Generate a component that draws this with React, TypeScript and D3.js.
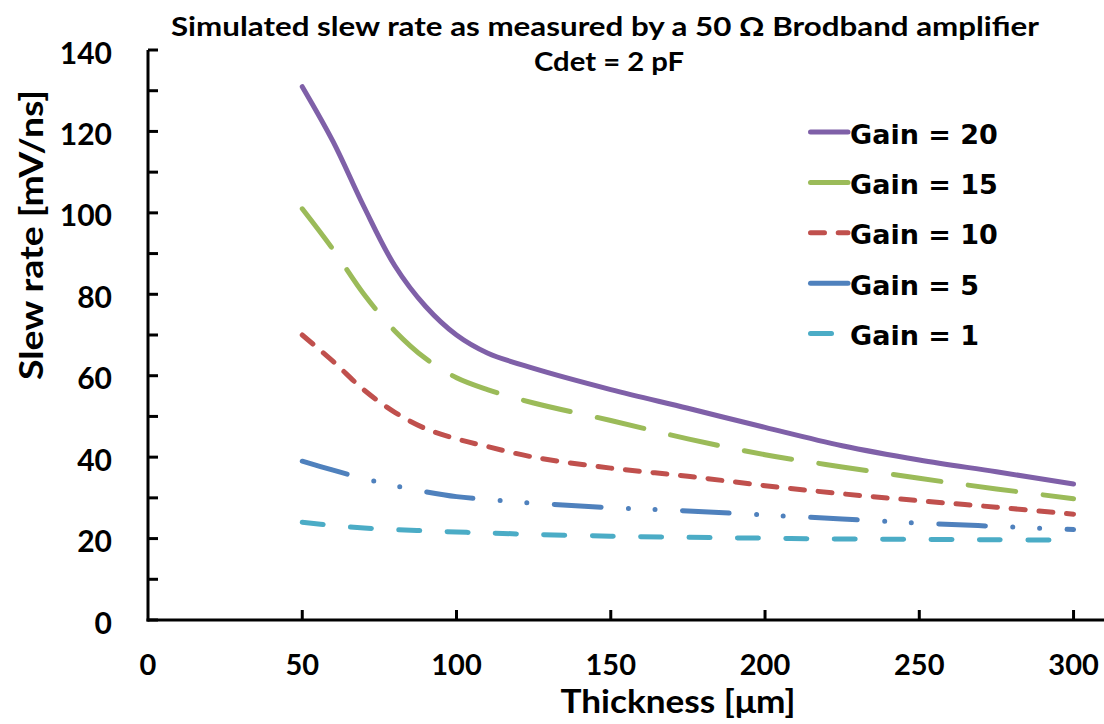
import React from "react";
import * as d3 from "d3";

// Detector thickness in micrometres (x values shared by every series)
const thickness = [50, 60, 70, 80, 90, 100, 110, 125, 150, 175, 200, 225, 250, 275, 300];

// Slew rate in mV/ns for each amplifier gain
const gain20 = [131, 117.5, 101.5, 87, 77, 70, 65.6, 61.8, 56.6, 52, 47.3, 42.8, 39.3, 36.4, 33.4];
const gain15 = [101, 91, 80, 71, 64.2, 59.5, 56.6, 53.3, 49, 44.5, 40.6, 37.6, 34.8, 32.2, 29.8];
const gain10 = [70, 63.5, 56.5, 51, 47, 44.5, 42.6, 40, 37.3, 35.3, 33, 31, 29.3, 27.7, 26];
const gain5 = [39, 36.8, 34.7, 33, 31.5, 30.3, 29.6, 28.7, 27.6, 26.8, 25.8, 24.8, 23.8, 23, 22.2];
const gain1 = [24, 23.2, 22.6, 22.2, 21.9, 21.6, 21.4, 21, 20.6, 20.3, 20.1, 19.9, 19.8, 19.7, 19.6];

const seriesNames = ["Gain = 20", "Gain = 15", "Gain = 10", "Gain = 5", "Gain = 1"];
const seriesValues = [gain20, gain15, gain10, gain5, gain1];

const xTickLabels = [0, 50, 100, 150, 200, 250, 300];
const yTickLabels = [0, 20, 40, 60, 80, 100, 120, 140];

const titleLine1 = "Simulated slew rate as measured by a 50 \u03A9 Brodband amplifier";
const titleLine2 = "Cdet = 2 pF";
const xTitle = "Thickness [\u03BCm]";
const yTitle = "Slew rate [mV/ns]";

// Line appearance per series
const seriesStyles = [
  { color: "#7F60A8", dash: "none" },
  { color: "#9BBB59", dash: "48 27.5" },
  { color: "#C0504D", dash: "14 13.7" },
  { color: "#4F81BD", dash: "46.7 27.5 0 26.6 0 27.5" },
  { color: "#4BACC6", dash: "21 27.4" },
];

const W = 1104;
const H = 724;
const tickFont = "Lato, 'Open Sans', sans-serif";
const legendFont = "'DejaVu Sans', Verdana, sans-serif";

export default function App() {
  const x = d3.scaleLinear().domain([0, 310]).range([148, 1104.4]);
  const y = d3.scaleLinear().domain([0, 140]).range([620, 50]);

  const line = d3
    .line<[number, number]>()
    .x((d) => x(d[0]))
    .y((d) => y(d[1]))
    .curve(d3.curveCatmullRom.alpha(0.5));

  const minorY = d3.range(0, 141, 10);
  const x0 = x(0);
  const y0 = y(0);

  return (
    <svg
      width={W}
      height={H}
      viewBox={`0 0 ${W} ${H}`}
      style={{ position: "absolute", left: 0, top: 0, background: "#fff" }}
    >
      <rect x={0} y={0} width={W} height={H} fill="#fff" />

      {/* Title */}
      <text
        x={605}
        y={36}
        textAnchor="middle"
        fontFamily={tickFont}
        fontWeight={700}
        fontSize={26}
        textLength={868}
        lengthAdjust="spacingAndGlyphs"
      >
        {titleLine1}
      </text>
      <text
        x={609}
        y={71}
        textAnchor="middle"
        fontFamily={tickFont}
        fontWeight={700}
        fontSize={27}
        textLength={150}
        lengthAdjust="spacingAndGlyphs"
      >
        {titleLine2}
      </text>

      {/* Series */}
      {seriesValues.map((vals, i) => {
        const pts = thickness.map((t, j) => [t, vals[j]] as [number, number]);
        const s = seriesStyles[i];
        return (
          <path
            key={seriesNames[i]}
            d={line(pts) || ""}
            fill="none"
            stroke={s.color}
            strokeWidth={5}
            strokeLinecap="round"
            strokeLinejoin="round"
            strokeDasharray={s.dash}
          />
        );
      })}

      {/* Y axis */}
      <line x1={x0} x2={x0} y1={y(140)} y2={y0 + 1.5} stroke="#000" strokeWidth={3} />
      {minorY.map((v) => (
        <line key={"yt" + v} x1={x0} x2={x0 + 10} y1={y(v)} y2={y(v)} stroke="#000" strokeWidth={3} />
      ))}
      {yTickLabels.map((v) => (
        <text
          key={"yl" + v}
          x={112}
          y={y(v) + 13.5}
          textAnchor="end"
          fontFamily={tickFont}
          fontWeight={700}
          fontSize={30}
        >
          {v}
        </text>
      ))}

      {/* X axis */}
      <line x1={x0 - 1.5} x2={W} y1={y0} y2={y0} stroke="#000" strokeWidth={3} />
      {xTickLabels.filter((v) => v > 0).map((v) => (
        <line key={"xt" + v} x1={x(v)} x2={x(v)} y1={y0} y2={y0 - 10} stroke="#000" strokeWidth={3} />
      ))}
      {xTickLabels.map((v) => (
        <text
          key={"xl" + v}
          x={x(v)}
          y={675}
          textAnchor="middle"
          fontFamily={tickFont}
          fontWeight={700}
          fontSize={29}
        >
          {v}
        </text>
      ))}

      {/* Axis titles */}
      <text
        x={678}
        y={713}
        textAnchor="middle"
        fontFamily={tickFont}
        fontWeight={700}
        fontSize={32}
        textLength={235}
        lengthAdjust="spacingAndGlyphs"
      >
        {xTitle}
      </text>
      <text
        transform={`translate(43, 235) rotate(-90)`}
        textAnchor="middle"
        fontFamily={tickFont}
        fontWeight={700}
        fontSize={32}
        textLength={290}
        lengthAdjust="spacingAndGlyphs"
      >
        {yTitle}
      </text>

      {/* Legend */}
      {seriesNames.map((name, i) => {
        const ly = 132 + i * 50.4;
        const s = seriesStyles[i];
        return (
          <g key={"lg" + name}>
            <line
              x1={810.5}
              x2={848}
              y1={ly}
              y2={ly}
              stroke={s.color}
              strokeWidth={5}
              strokeLinecap="round"
              strokeDasharray={s.dash}
            />
            <text
              x={850}
              y={ly + 11.5}
              fontFamily={legendFont}
              fontWeight={700}
              fontSize={27}
            >
              {name}
            </text>
          </g>
        );
      })}
    </svg>
  );
}
